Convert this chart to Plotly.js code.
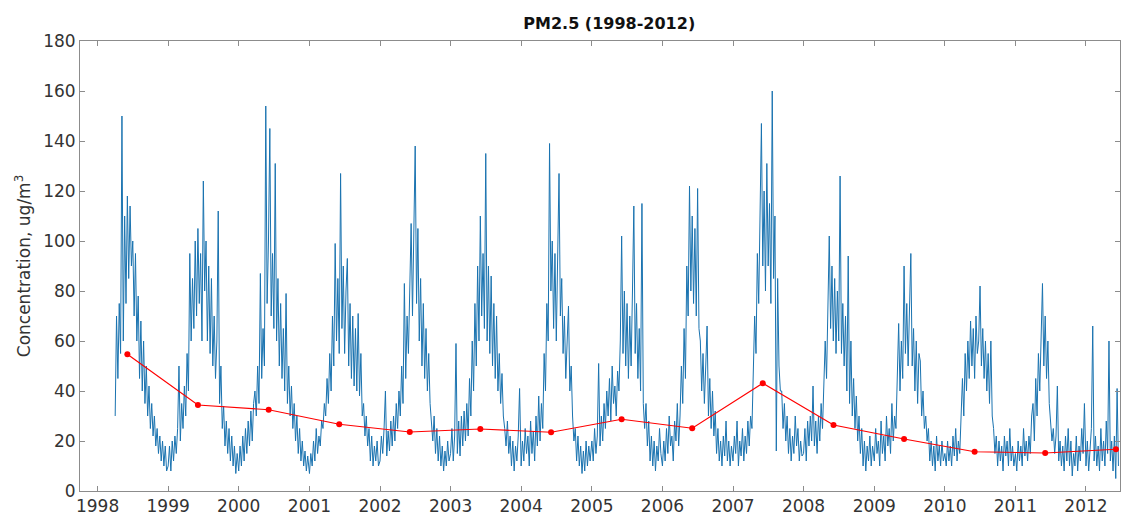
<!DOCTYPE html>
<html>
<head>
<meta charset="utf-8">
<script src="https://cdn.plot.ly/plotly-3.0.1.min.js"></script>
<style>html,body{margin:0;padding:0;background:#fff;}#chart{width:1122px;height:519px;}</style>
</head>
<body>
<div id="chart"></div>
<script>
// Weekly PM2.5 readings (ug/m3), one array per year; week index counts from Jan 1
// (1998 starts at week 13, i.e. early April).
const firstWeek1998 = 13;
const pm1998 = [30,70,45,75,55,150,60,110,75,118,85,114,90,100,70,95,60,78,45,68,40,60,35,50,30,42,25,35,22,30,18,25,15,22,12,20,10,18,8];
const pm1999 = [10,18,8,20,12,22,15,25,50,20,35,25,42,30,55,40,95,60,85,65,100,70,105,75,95,60,124,80,100,60,90,55,85,50,70,45,60,112,35,50,25,34,18,28,15,25,12,22,10,18,7,15];
const pm2000 = [8,18,10,22,12,25,15,28,18,32,20,35,40,30,50,35,87,45,65,50,154,75,100,145,70,95,65,131,60,85,50,75,45,65,40,79,35,50,30,42,25,35,20,30,15,25,12,20,10,16,8,14];
const pm2001 = [7,15,10,20,12,25,15,22,18,28,25,35,30,45,35,55,40,70,50,99,60,85,55,127,65,90,55,80,93,50,75,45,70,42,65,40,71,38,55,30,35,22,30,18,25,12,22,10,18,12,20,10];
const pm2002 = [12,22,15,25,40,14,24,16,28,18,30,20,35,25,40,30,50,35,83,45,70,55,80,107,70,100,138,75,105,60,85,50,75,45,65,40,55,35,28,20,30,15,25,12,22,10,18,8,16,10,20,12];
const pm2003 = [15,25,12,22,59,15,28,14,30,18,32,20,35,22,45,30,60,40,75,50,90,60,110,70,95,65,135,60,90,55,86,50,75,45,70,40,55,35,47,30,25,18,28,15,22,10,20,8,18,12,22,41];
const pm2004 = [10,20,12,25,15,22,10,28,15,24,12,30,18,38,20,35,25,55,40,75,60,139,80,100,65,95,60,90,127,70,85,55,70,45,60,74,40,50,30,20,25,12,22,10,18,7,16,8,20,10,18,12];
const pm2005 = [20,12,25,15,22,51,18,30,20,35,25,40,30,45,28,50,35,42,30,48,40,60,102,55,80,50,75,45,70,50,80,114,55,75,45,65,40,115,35,25,35,18,28,12,22,10,20,8,18,12,25,15];
const pm2006 = [10,20,12,25,15,30,18,22,12,28,20,35,18,30,50,35,65,45,90,70,122,80,110,75,105,70,121,65,60,40,55,35,50,66,30,45,25,40,22,32,15,25,12,20,10,22,14,28,12,20,10,18];
const pm2007 = [12,22,15,28,10,20,14,25,12,22,15,28,18,30,25,45,70,55,95,75,118,147,90,120,80,131,90,115,75,160,85,110,16,85,50,40,40,25,35,20,30,15,25,12,22,15,30,18,25,12,20,14];
const pm2008 = [15,25,12,28,18,30,20,42,18,28,15,30,20,35,25,40,60,45,75,102,65,90,60,85,55,80,60,126,55,75,50,70,40,94,35,60,30,45,25,38,20,30,15,25,10,20,8,18,12,22,10,18];
const pm2009 = [12,25,15,20,10,28,15,22,12,30,18,25,15,35,20,30,25,45,67,40,60,45,90,55,75,50,70,95,50,65,40,60,35,55,52,30,40,25,30,20,25,12,20,10,18,8,22,12,18,10,20,12];
const pm2010 = [15,10,20,12,18,10,22,14,25,12,20,15,30,45,30,55,40,60,45,68,50,65,45,70,55,60,82,50,65,45,60,40,55,35,60,30,25,15,22,10,20,12,18,8,22,14,20,10,25,12,18,10];
const pm2011 = [15,8,20,12,18,10,25,14,20,12,22,15,30,35,20,45,30,55,40,65,83,50,70,45,60,35,28,20,25,15,22,42,12,20,10,18,8,22,12,25,10,20,6,15,10,22,8,18,12,25,15,35];
const pm2012 = [10,20,8,15,25,66,12,22,10,18,8,25,12,20,10,28,15,60,12,20,8,22,5,41,10];
const years = [1998,1999,2000,2001,2002,2003,2004,2005,2006,2007,2008,2009,2010,2011,2012];
const yearly = [pm1998,pm1999,pm2000,pm2001,pm2002,pm2003,pm2004,pm2005,pm2006,pm2007,pm2008,pm2009,pm2010,pm2011,pm2012];

// Annual means, plotted in early June of each year
const meanDates = ['1998-06-04','1999-06-04','2000-06-04','2001-06-04','2002-06-04','2003-06-04','2004-06-04','2005-06-04','2006-06-04','2007-06-04','2008-06-04','2009-06-04','2010-06-04','2011-06-04','2012-06-04'];
const meanValues = [54.7,34.4,32.5,26.7,23.6,24.8,23.5,28.7,25.1,43.1,26.4,20.8,15.7,15.2,16.7];

const tickYears = ['1998','1999','2000','2001','2002','2003','2004','2005','2006','2007','2008','2009','2010','2011','2012'];

const dates = [], vals = [];
years.forEach((yr, k) => {
  const off = (yr === 1998) ? firstWeek1998 : 0;
  yearly[k].forEach((v, i) => {
    const d = new Date(Date.UTC(yr, 0, 1) + (off + i) * 7 * 86400000);
    dates.push(d.toISOString().slice(0, 10));
    vals.push(v);
  });
});

const axisColor = '#8c8c8c';
const textColor = '#333333';
const font = 'DejaVu Sans, Verdana, sans-serif';

const traces = [
  {x: dates, y: vals, type: 'scatter', mode: 'lines', line: {color: '#1a73b0', width: 1}, hoverinfo: 'skip', showlegend: false},
  {x: meanDates, y: meanValues, type: 'scatter', mode: 'lines+markers', line: {color: '#ff0000', width: 1.2}, marker: {color: '#ff0000', size: 6}, showlegend: false}
];

const layout = {
  width: 1122, height: 519,
  margin: {l: 80, r: 2, t: 41, b: 28},
  paper_bgcolor: '#fff', plot_bgcolor: '#fff',
  font: {family: font, color: textColor, size: 17},
  title: {text: '<b>PM2.5 (1998-2012)</b>', x: 0.543, xanchor: 'center', y: 0.954, yanchor: 'middle', font: {size: 16, color: '#111', family: font}},
  xaxis: {
    type: 'date', range: ['1997-10-02', '2012-06-25'],
    tickvals: tickYears.map(y => y + '-01-01'), ticktext: tickYears,
    ticks: 'inside', ticklen: 5, tickcolor: axisColor, mirror: 'ticks',
    showline: true, linecolor: axisColor, linewidth: 1, showgrid: false, zeroline: false,
    tickfont: {size: 17, color: textColor}
  },
  yaxis: {
    range: [0, 180], tickvals: [0,20,40,60,80,100,120,140,160,180],
    ticks: 'inside', ticklen: 5, tickcolor: axisColor, mirror: 'ticks',
    showline: true, linecolor: axisColor, linewidth: 1, showgrid: false, zeroline: false,
    tickfont: {size: 17, color: textColor},
    title: {text: 'Concentration, ug/m<sup>3</sup>', font: {size: 17, color: textColor}, standoff: 8}
  }
};

Plotly.newPlot('chart', traces, layout, {displayModeBar: false, staticPlot: true});
</script>
</body>
</html>
